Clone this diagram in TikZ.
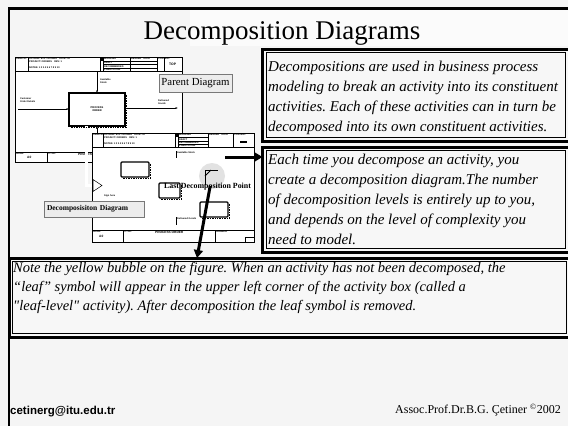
\documentclass[tikz,border=0pt]{standalone}
\usepackage{fontspec}
\setmainfont{Liberation Serif}[Ligatures=TeXOff]
\setsansfont{Liberation Sans}
\frenchspacing
\usetikzlibrary{
  arrows.meta,
  positioning,
  calc
}
\definecolor{SlideGray}{RGB}{245,245,245}
\definecolor{TitleTint}{RGB}{251,251,251}
\definecolor{BoxTint}{RGB}{247,247,247}
\definecolor{LabelGray}{RGB}{236,236,236}
\definecolor{BubbleGray}{RGB}{226,226,226}
\definecolor{RuleGray}{RGB}{120,120,120}
\tikzset{
  framebox/.style={
    draw=black,
    line width=3pt,
    fill=BoxTint,
    anchor=north west,
    outer sep=0pt,
    inner sep=0pt
  },
  innerline/.style={draw=black,line width=0.6pt},
  textpara/.style={align=left,anchor=north west,inner sep=0pt,font=\fontsize{15}{20}\selectfont\itshape},
  sheet/.style={draw=black,line width=0.4pt,fill=white,anchor=north west,outer sep=0pt,inner sep=0pt},
  cellline/.style={draw=black,line width=0.3pt},
  actbox/.style={draw=black,line width=1.1pt,fill=white,rounded corners=1pt,inner sep=0pt,outer sep=0pt},
  actshadow/.style={draw=black,line width=0.7pt,densely dotted},
  tinytext/.style={anchor=north west,inner sep=0pt,align=left,font=\fontsize{2.4}{2.9}\selectfont\sffamily\bfseries},
  flow/.style={-{Latex[length=2.5pt,width=2pt]},line width=0.5pt},
  hollowshaft/.style={draw=black,line width=0.5pt,double=white,double distance=2.2pt},
  tag/.style={draw=RuleGray,line width=0.4pt,fill=LabelGray,inner sep=0pt},
  bigarrow/.style={-{Triangle[length=8pt,width=9pt]},line width=3pt}
}

\begin{document}
\begin{tikzpicture}[x=1pt,y=-1pt]
  \useasboundingbox (0,0) rectangle (568,426);
  \fill[SlideGray] (0,0) rectangle (568,426);
  \fill[TitleTint] (190,9.5) rectangle (568,46);
  \draw[line width=2.2pt] (9,426) -- (9,8.5) -- (568,8.5);

  % title
  \node[font=\fontsize{27}{30}\selectfont, inner sep=0pt] (title) at (282,33) {Decomposition Diagrams};

  % parent sheet
  \node[sheet, minimum width=167pt, minimum height=105pt] (parent) at (15,57) {};
  \draw[cellline] (15,71) -- (182,71);
  \foreach \x in {28,100,103,130,157,164} \draw[cellline] (\x,57) -- (\x,71);
  \foreach \y in {61,64.5,68} \draw[cellline] (103,\y) -- (157,\y);
  \fill (100,57) rectangle (103,61);
  \node[tinytext] at (16,58) {USED AT:};
  \node[tinytext] at (29,58) {AUTHOR: B.G. CETINER\quad DATE: 02\\PROJECT: ORDERS\quad REV: 1};
  \node[tinytext] at (29,66.5) {NOTES: 1 2 3 4 5 6 7 8 9 10};
  \node[tinytext] at (104,58) {WORKING};
  \node[tinytext] at (104,61.8) {DRAFT};
  \node[tinytext] at (104,65.3) {RECOMMENDED};
  \node[tinytext] at (104,68.6) {PUBLICATION};
  \node[tinytext] at (131,58) {READER\quad DATE};
  \node[tinytext] at (158,58) {CONTEXT:};
  \node[tinytext, font=\fontsize{3.4}{4}\selectfont\sffamily\bfseries] at (169,63) {TOP};
  \draw[cellline] (15,152) -- (182,152);
  \draw[cellline] (47,152) -- (47,162);
  \node[tinytext] at (16,153) {NODE:};
  \node[tinytext, font=\fontsize{3.2}{4}\selectfont\sffamily\bfseries] at (27,156.5) {A0};
  \node[tinytext] at (48,153) {TITLE:};
  \node[tinytext, font=\fontsize{3.2}{4}\selectfont\sffamily\bfseries] at (78,153.5) {PROCESS ORDER};

  % parent activity and its arrows
  \node[actbox, rounded corners=0pt, minimum width=56pt, minimum height=33pt,
    font=\fontsize{2.6}{3.1}\selectfont\sffamily\bfseries, align=center] (pact) at (97,109.5) {PROCESS\\ORDER};
  \coordinate (inp) at (18,109);
  \coordinate (outp) at (178,108);
  \coordinate (ctl) at (97,71);
  \coordinate (mech) at (97,134);
  \draw[flow] (inp) -- (pact.west |- inp);
  \draw[flow] (pact.east |- outp) -- (outp);
  \draw[flow] (ctl) -- (pact.north);
  \draw[flow] (mech) -- (pact.south);
  \node[tinytext] at (20,97.5) {Customer\\Order Details};
  \node[tinytext] at (100,79) {Available\\Stock};
  \node[tinytext] at (158,99.5) {Delivered\\Goods};
  \draw[hollowshaft] ([xshift=-10.5pt]pact.south) |- (93,185.5);

  % child sheet
  \node[sheet, minimum width=162pt, minimum height=109pt] (child) at (92,133) {};
  \draw[cellline] (92,147) -- (254,147);
  \foreach \x in {103,175,178,208,233} \draw[cellline] (\x,133) -- (\x,147);
  \foreach \y in {137.5,141,144} \draw[cellline] (178,\y) -- (208,\y);
  \fill (175,133) rectangle (178,137);
  \fill (240,140.5) rectangle (247,142.5);
  \node[tinytext] at (93,134) {USED AT:};
  \node[tinytext] at (104,134) {AUTHOR: B.G. CETINER\quad DATE: 02\\PROJECT: ORDERS\quad REV: 1};
  \node[tinytext] at (104,142.5) {NOTES: 1 2 3 4 5 6 7 8 9 10};
  \node[tinytext] at (179,134) {WORKING};
  \node[tinytext] at (179,138.3) {DRAFT};
  \node[tinytext] at (179,141.8) {RECOMMENDED};
  \node[tinytext] at (179,144.6) {PUBLICATION};
  \node[tinytext] at (209,134) {READER\quad DATE};
  \node[tinytext] at (234,134) {CONTEXT:};
  \draw[cellline] (92,230) -- (254,230);
  \foreach \x in {123,215} \draw[cellline] (\x,230) -- (\x,242);
  \draw[cellline] (245,237) rectangle (254,242);
  \node[tinytext] at (93,231) {NODE:};
  \node[tinytext, font=\fontsize{3.2}{4}\selectfont\sffamily\bfseries] at (99,235) {A0};
  \node[tinytext] at (124,231) {TITLE:};
  \node[tinytext, font=\fontsize{3.2}{4}\selectfont\sffamily\bfseries] at (155,231) {PROCESS ORDER};
  \node[tinytext] at (216,231) {NUMBER:};

  % child activities
  \node[circle, fill=BubbleGray, minimum size=26pt, inner sep=0pt] (bubble) at (212,176) {};
  \node[actbox, minimum width=28pt, minimum height=15pt] (actA) at (135,169.5) {};
  \node[actbox, minimum width=21pt, minimum height=15pt] (actB) at (169.5,190.5) {};
  \node[actbox, minimum width=28pt, minimum height=15pt] (actC) at (214,209.5) {};
  \foreach \a in {pact,actA,actB,actC}
    \draw[actshadow] ([xshift=1.6pt,yshift=-1.5pt]\a.north east) -- ([xshift=1.6pt,yshift=-1.6pt]\a.south east) -- ([xshift=1.5pt,yshift=-1.6pt]\a.south west);
  \draw[line width=0.8pt] (205,185) -- (205,170) -- (218,170);
  \draw[line width=0.8pt] (205,176) -- (211,170);
  \draw[cellline] (176,151) -- (176,158);
  \node[tinytext] at (177,152) {Available Stock};
  \node[tinytext] at (104,195) {Sign here};
  \draw[cellline] (176,217) -- (176,225);
  \node[tinytext] at (177,218) {Delivered Goods};

  % decomposition arrow head
  \draw[line width=0.5pt, fill=white] (93,179.5) -- (102,185.5) -- (93,191.5) -- cycle;

  % labels on the figure
  \node[tag, minimum width=73pt, minimum height=18pt, font=\fontsize{10.8}{12}\selectfont] (parenttag) at (195.5,83) {Parent Diagram};
  \node[tag, minimum width=100pt, minimum height=16pt, text width=94pt, inner xsep=3pt, align=left,
    font=\fontsize{7.5}{9}\selectfont\bfseries] (childtag) at (94,209) {Decomposisiton Diagram};
  \node[inner sep=0pt, font=\fontsize{7.9}{9}\selectfont\bfseries] (lastlbl) at (207.5,187) {Last Decomposition Point};

  % text boxes
  \node[framebox, minimum width=306.5pt, minimum height=92pt] (intro) at (262.5,49) {};
  \node[framebox, minimum width=306.5pt, minimum height=105pt] (levels) at (262.5,147) {};
  \node[framebox, minimum width=561pt, minimum height=79pt] (note) at (9,258) {};
  \foreach \b in {intro,levels,note}
    \draw[innerline] ($(\b.north west)+(3.5,3.5)$) rectangle ($(\b.south east)+(-3.5,-3.5)$);
  \node[textpara] (introtext) at (268,61) {Decompositions are used in business process\\
    modeling to break an activity into its constituent\\
    activities. Each of these activities can in turn be\\
    decomposed into its own constituent activities.};
  \node[textpara] (levelstext) at (268,153.5) {Each time you decompose an activity, you\\
    create a decomposition diagram.The number\\
    of decomposition levels is entirely up to you,\\
    and depends on the level of complexity you\\
    need to model.};
  \node[textpara, font=\fontsize{14.5}{19}\selectfont\itshape] (notetext) at (13,262) {Note the yellow bubble on the figure. When an activity has not been decomposed, the\\
    “leaf” symbol will appear in the upper left corner of the activity box (called a\\
    "leaf-level" activity). After decomposition the leaf symbol is removed.};

  % pointers
  \coordinate (leveltail) at (225,157);
  \coordinate (notetip) at (197,258);
  \draw[bigarrow] (leveltail) -- (levels.west |- leveltail);
  \draw[bigarrow, shorten <=10pt] (bubble.center) -- (notetip |- note.north);

  % footer
  \node[anchor=west, inner sep=0pt, font=\fontsize{11.5}{13}\selectfont\sffamily\bfseries] (mail) at (10,412) {cetinerg@itu.edu.tr};
  \node[anchor=east, inner sep=0pt, font=\fontsize{12}{14}\selectfont] (credit) at (561,410) {Assoc.Prof.Dr.B.G. Çetiner \textsuperscript{©}2002};
\end{tikzpicture}
\end{document}
